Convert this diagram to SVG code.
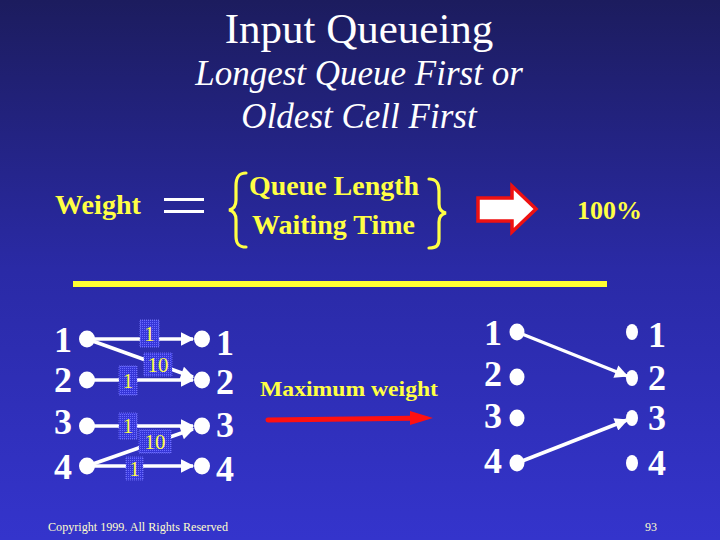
<svg xmlns="http://www.w3.org/2000/svg" width="720" height="540" viewBox="0 0 720 540">
<defs>
<linearGradient id="bg" x1="0" y1="0" x2="0" y2="1">
<stop offset="0" stop-color="#1c1c5e"/>
<stop offset="0.5" stop-color="#2a2aa6"/>
<stop offset="1" stop-color="#3434cc"/>
</linearGradient>
<pattern id="dots" width="2" height="2" patternUnits="userSpaceOnUse">
<rect width="2" height="2" fill="#3636d8"/>
<rect width="1" height="1" fill="#6a6aff"/>
</pattern>
<marker id="wa" viewBox="0 0 10 10" refX="9" refY="5" markerWidth="5" markerHeight="3.8" orient="auto" markerUnits="strokeWidth">
<path d="M0,0 L10,5 L0,10 Z" fill="#ffffff"/>
</marker>
</defs>
<style>
text{font-family:"Liberation Serif","Times New Roman",serif}
.title{fill:#ffffff;text-anchor:middle}
.yb{fill:#ffff44;font-weight:bold}
.num{fill:#ffffff;font-weight:bold;font-size:36px}
.dot{fill:#ffffff}
.edge{stroke:#ffffff;stroke-width:3.5;fill:none;marker-end:url(#wa)}
.lbl{fill:url(#dots);stroke:#7a7aff;stroke-width:0.8;stroke-dasharray:1 1}
.lt{fill:#ffff44;font-size:21px;text-anchor:middle}
.brace{fill:none;stroke:#ffff44;stroke-width:3.2;stroke-linecap:round}
.foot{fill:#ffffcc;font-size:12px}
</style>
<rect width="720" height="540" fill="url(#bg)"/>

<g id="title">
<text class="title" x="359" y="43" font-size="43">Input Queueing</text>
<text class="title" x="359" y="85" font-size="35" font-style="italic">Longest Queue First or</text>
<text class="title" x="359" y="128" font-size="35" font-style="italic">Oldest Cell First</text>
</g>

<g id="formula">
<text class="yb" x="55" y="214" font-size="27" textLength="86" lengthAdjust="spacingAndGlyphs">Weight</text>
<rect x="164" y="198" width="40" height="3" fill="#ffffff"/>
<rect x="164" y="210" width="40" height="3" fill="#ffffff"/>
<path class="brace" d="M246,173 C238,173 236,178 236,186 L236,200 C236,206 234,209 229,210 C234,211 236,214 236,220 L236,236 C236,243 238,247 246,247"/>
<text class="yb" x="249" y="195" font-size="27" textLength="170" lengthAdjust="spacingAndGlyphs">Queue Length</text>
<text class="yb" x="252" y="234" font-size="27" textLength="163" lengthAdjust="spacingAndGlyphs">Waiting Time</text>
<path class="brace" d="M429,179 C437,179 439,184 439,191 L439,204 C439,209 441,212 446,213 C441,214 439,217 439,222 L439,239 C439,245 437,248 429,248"/>
<path d="M478,198 L512,198 L512,186 L536,209 L512,232 L512,221 L478,221 Z" fill="#ffffff" stroke="#ee1111" stroke-width="3.5" stroke-linejoin="miter"/>
<text class="yb" x="577" y="219" font-size="26" textLength="65" lengthAdjust="spacingAndGlyphs">100%</text>
<rect x="73" y="281" width="534" height="6" fill="#ffff33"/>
</g>

<g id="left-inputs">
<text class="num" x="54" y="352">1</text>
<text class="num" x="54" y="392">2</text>
<text class="num" x="54" y="434">3</text>
<text class="num" x="54" y="479">4</text>
<ellipse class="dot" cx="87" cy="339" rx="8" ry="8.5"/>
<ellipse class="dot" cx="87" cy="380" rx="8" ry="8.5"/>
<ellipse class="dot" cx="87" cy="426" rx="8" ry="8.5"/>
<ellipse class="dot" cx="87" cy="466" rx="8" ry="8.5"/>
</g>
<g id="left-outputs">
<ellipse class="dot" cx="202" cy="339" rx="8" ry="8.5"/>
<ellipse class="dot" cx="202" cy="380" rx="8" ry="8.5"/>
<ellipse class="dot" cx="202" cy="426" rx="8" ry="8.5"/>
<ellipse class="dot" cx="202" cy="466" rx="8" ry="8.5"/>
<text class="num" x="216" y="355">1</text>
<text class="num" x="216" y="394">2</text>
<text class="num" x="216" y="437">3</text>
<text class="num" x="216" y="481">4</text>
</g>

<g id="left-edges">
<line class="edge" x1="87" y1="339" x2="193" y2="339"/>
<line class="edge" x1="87" y1="339" x2="193" y2="377"/>
<line class="edge" x1="87" y1="380" x2="193" y2="380"/>
<line class="edge" x1="87" y1="426" x2="193" y2="426"/>
<line class="edge" x1="87" y1="466" x2="193" y2="429"/>
<line class="edge" x1="87" y1="466" x2="193" y2="466"/>
</g>
<g id="edge-labels">
<rect class="lbl" x="140" y="320" width="19" height="27"/>
<text class="lt" x="149.5" y="341">1</text>
<rect class="lbl" x="144" y="353" width="28" height="23"/>
<text class="lt" x="158" y="372">10</text>
<rect class="lbl" x="119" y="366" width="18" height="29"/>
<text class="lt" x="128" y="388">1</text>
<rect class="lbl" x="119" y="413" width="18" height="26"/>
<text class="lt" x="128" y="433">1</text>
<rect class="lbl" x="139" y="430" width="32" height="23"/>
<text class="lt" x="155" y="449">10</text>
<rect class="lbl" x="126" y="457" width="17" height="23"/>
<text class="lt" x="134.5" y="476">1</text>
</g>

<g id="max-weight">
<text class="yb" x="260" y="396" font-size="21" textLength="178" lengthAdjust="spacingAndGlyphs">Maximum weight</text>
<line x1="268" y1="420" x2="412" y2="418.3" stroke="#ff1010" stroke-width="5" stroke-linecap="round"/>
<path d="M410,411 L433,418 L410,425 Z" fill="#ff1010"/>
</g>

<g id="right-inputs">
<text class="num" x="484" y="345" font-size="34">1</text>
<text class="num" x="484" y="386" font-size="34">2</text>
<text class="num" x="484" y="428" font-size="34">3</text>
<text class="num" x="484" y="473" font-size="34">4</text>
<ellipse class="dot" cx="517" cy="332" rx="7.5" ry="8.5"/>
<ellipse class="dot" cx="517" cy="377" rx="7.5" ry="8.5"/>
<ellipse class="dot" cx="517" cy="418" rx="7.5" ry="8.5"/>
<ellipse class="dot" cx="517" cy="463" rx="7.5" ry="8.5"/>
</g>
<g id="right-outputs">
<ellipse class="dot" cx="632" cy="332" rx="6" ry="8"/>
<ellipse class="dot" cx="632" cy="378" rx="6" ry="8"/>
<ellipse class="dot" cx="632" cy="418" rx="6" ry="8"/>
<ellipse class="dot" cx="632" cy="463" rx="6" ry="8"/>
<text class="num" x="648" y="347">1</text>
<text class="num" x="648" y="390">2</text>
<text class="num" x="648" y="430">3</text>
<text class="num" x="648" y="475">4</text>
</g>
<g id="right-edges">
<line class="edge" x1="517" y1="332" x2="627" y2="376"/>
<line class="edge" x1="517" y1="463" x2="627" y2="420"/>
</g>

<g id="footer">
<text class="foot" x="48" y="531" textLength="180" lengthAdjust="spacingAndGlyphs">Copyright 1999. All Rights Reserved</text>
<text class="foot" x="645" y="531">93</text>
</g>
</svg>
